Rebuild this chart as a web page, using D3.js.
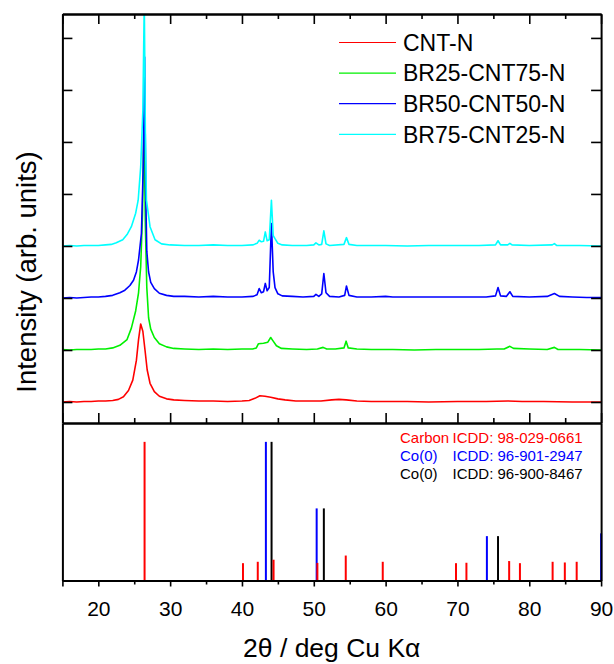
<!DOCTYPE html>
<meta charset="utf-8">
<title>XRD patterns of CNT-N and BR-CNT-N samples</title>
<style>
  body { margin: 0; background: #fff; }
  text { font-family: "Liberation Sans", Arial, sans-serif; }
</style>
<body>
<div id="my_dataviz"></div>
<script src="https://d3js.org/d3.v7.min.js"></script>
<script>

// ---- data: [2theta (deg), intensity (arb.)] ----
var cntN = [[15,0.00],[16,0.01],[17,0.00],[18,0.01],[19,0.01],[20,0.02],[21,0.02],[22,0.03],[22.8,0.05],[23.5,0.10],[24.2,0.22],[24.8,0.42],[25.3,0.80],[25.6,1.20],[25.9,1.50],[26.2,1.36],[26.5,1.00],[26.8,0.62],[27.2,0.36],[27.8,0.20],[28.5,0.11],[29.5,0.06],[30.5,0.04],[32,0.03],[34,0.02],[36,0.02],[38,0.01],[40,0.02],[41,0.03],[41.8,0.07],[42.5,0.12],[43.2,0.11],[44,0.09],[45,0.06],[46,0.04],[47.5,0.02],[49,0.02],[51,0.02],[52.5,0.04],[53.5,0.05],[54.5,0.04],[56,0.02],[58,0.01],[60,0.01],[63,0.01],[66,0.00],[70,0.01],[74,0.01],[77,0.02],[79,0.01],[82,0.01],[86,0.00],[90,0.00]];

var br25cnt75 = [[15,0.01],[16,0.00],[17,0.01],[18,0.01],[19,0.01],[20,0.02],[21,0.02],[22,0.04],[23,0.09],[24,0.20],[24.6,0.42],[25.2,0.75],[25.6,1.10],[25.9,1.60],[26.15,2.60],[26.35,4.38],[26.55,2.40],[26.75,1.20],[27.0,0.62],[27.3,0.40],[27.8,0.24],[28.5,0.12],[29.5,0.06],[30.5,0.03],[32,0.02],[34,0.01],[36,0.02],[38,0.01],[40,0.02],[41.5,0.02],[42.0,0.04],[42.3,0.12],[43.0,0.13],[43.6,0.15],[44.0,0.24],[44.3,0.18],[44.8,0.08],[45.5,0.03],[47,0.02],[49,0.01],[50.5,0.02],[51.3,0.05],[51.8,0.02],[53,0.02],[54.2,0.04],[54.5,0.17],[54.8,0.04],[56,0.02],[58,0.01],[61,0.01],[64,0.00],[67,0.01],[70,0.01],[73,0.01],[75.5,0.02],[76.5,0.02],[77.3,0.07],[77.8,0.03],[80,0.02],[82.5,0.01],[83.5,0.05],[84,0.01],[87,0.01],[90,0.00]];

var br50cnt50 = [[15,0.00],[16,0.01],[17,0.00],[18,0.01],[19,0.02],[20,0.02],[21,0.03],[22,0.05],[23,0.10],[23.7,0.15],[24.4,0.24],[24.9,0.34],[25.3,0.50],[25.6,0.73],[26.0,1.24],[26.25,2.50],[26.45,4.63],[26.6,2.00],[26.75,0.90],[27.0,0.50],[27.3,0.30],[27.8,0.18],[28.5,0.09],[29.5,0.05],[30.5,0.03],[32,0.03],[34,0.02],[36,0.03],[38,0.02],[40,0.02],[41.5,0.03],[42.1,0.06],[42.4,0.18],[42.7,0.10],[43.0,0.12],[43.25,0.28],[43.5,0.14],[43.8,0.20],[44.1,1.43],[44.35,0.50],[44.6,0.20],[45.0,0.08],[45.6,0.04],[47,0.03],[48.5,0.02],[50.0,0.03],[50.3,0.07],[50.7,0.03],[51.1,0.08],[51.4,0.47],[51.7,0.10],[52.2,0.03],[53.5,0.02],[54.3,0.05],[54.55,0.23],[54.9,0.05],[56,0.02],[58,0.02],[60,0.03],[61,0.02],[63,0.02],[66,0.02],[68,0.02],[70,0.02],[72,0.02],[74,0.02],[75.3,0.04],[75.65,0.20],[76.0,0.04],[76.8,0.03],[77.3,0.12],[77.7,0.03],[80,0.02],[82.5,0.03],[83.5,0.085],[84.2,0.03],[86,0.02],[88,0.01],[90,0.01]];

var br75cnt25 = [[15,0.00],[16,0.01],[17,0.00],[18,0.01],[19,0.01],[20,0.01],[21,0.02],[21.8,0.03],[22.5,0.06],[23.4,0.12],[24.0,0.22],[24.6,0.37],[25.2,0.63],[25.55,0.88],[25.9,1.52],[26.2,2.60],[26.4,4.70],[26.55,2.20],[26.7,0.88],[27.2,0.37],[27.9,0.12],[28.8,0.04],[30,0.02],[32,0.01],[34,0.01],[36,0.02],[38,0.01],[40,0.01],[41.5,0.02],[42.1,0.05],[42.4,0.11],[42.7,0.08],[43.0,0.09],[43.25,0.27],[43.5,0.10],[43.8,0.12],[44.1,0.88],[44.35,0.20],[44.6,0.14],[45.0,0.05],[45.6,0.02],[47,0.01],[49,0.01],[50.0,0.02],[50.3,0.06],[50.7,0.02],[51.1,0.03],[51.4,0.29],[51.7,0.04],[52.2,0.01],[54.2,0.03],[54.55,0.16],[54.9,0.03],[56,0.01],[60,0.01],[63,0.00],[66,0.01],[70,0.01],[73,0.01],[75.3,0.02],[75.65,0.10],[76.0,0.02],[77.0,0.02],[77.3,0.05],[77.6,0.02],[80,0.01],[83.2,0.02],[83.5,0.045],[83.8,0.01],[87,0.01],[90,0.00]];

var seriesNames = ["CNT-N", "BR25-CNT75-N", "BR50-CNT50-N", "BR75-CNT25-N"];
var seriesData = [cntN, br25cnt75, br50cnt50, br75cnt25];
var seriesOffsets = [0, 1, 2, 3];   // vertical stacking of the patterns

// reference patterns: [2theta, relative intensity]
var carbonRef = [[26.44,100],[40.14,12.5],[42.2,13.5],[44.4,15],[50.5,12.7],[54.45,18],[59.6,13.5],[69.8,12.5],[71.25,12.8],[77.2,14],[78.7,12.5],[83.25,13.5],[84.95,13],[86.6,13.5]];
var co2947Ref = [[43.33,100],[50.4,52],[74.1,32],[90,34]];
var co8467Ref = [[44.12,100],[51.4,52],[75.65,32]];
var refLabels = [["Carbon", "ICDD: 98-029-0661"], ["Co(0)", "ICDD: 96-901-2947"], ["Co(0)", "ICDD: 96-900-8467"]];

var xMajor = [15, 20, 30, 40, 50, 60, 70, 80, 90];
var xMinor = [25, 35, 45, 55, 65, 75, 85];
var yTicks = [0, 1, 2, 3, 4, 5, 6, 7];

// colours
var seriesColors = ["#ff0000", "#00f000", "#0000ff", "#00ffff"];
var refColors = ["#ff0000", "#0000ff", "#000000"];

// ---- layout ----
var W = 614, H = 664;
var plotLeft = 62.4, plotRight = 601.1, plotTop = 14, plotMid = 423, plotBottom = 580.5;

var svg = d3.select("#my_dataviz")
  .append("svg")
    .attr("width", W)
    .attr("height", H);

var x = d3.scaleLinear().domain([15, 90]).range([plotLeft, plotRight]);
var yTop = d3.scaleLinear().domain([-0.404, 7.46]).range([plotMid, plotTop]);
var yBot = d3.scaleLinear().domain([0, 113.6]).range([plotBottom, plotMid]);

svg.append("clipPath").attr("id", "clipTop")
  .append("rect")
    .attr("x", plotLeft).attr("y", plotTop)
    .attr("width", plotRight - plotLeft).attr("height", plotMid - plotTop);

// ---- top panel: stacked XRD patterns ----
var line = d3.line()
  .x(function(d) { return x(d[0]); })
  .y(function(d) { return yTop(d[1]); });

svg.append("g")
    .attr("clip-path", "url(#clipTop)")
  .selectAll("path")
  .data(seriesData)
  .enter()
  .append("path")
    .attr("d", function(d, i) {
      return line(d.map(function(p) { return [p[0], p[1] + seriesOffsets[i]]; }));
    })
    .attr("fill", "none")
    .attr("stroke", function(d, i) { return seriesColors[i]; })
    .attr("stroke-width", 1.6)
    .attr("stroke-linejoin", "round");

// ---- bottom panel: reference sticks ----
var refSets = [co2947Ref, co8467Ref, carbonRef];
var refSetColors = [refColors[1], refColors[2], refColors[0]];
refSets.forEach(function(set, k) {
  svg.append("g")
    .selectAll("line")
    .data(set)
    .enter()
    .append("line")
      .attr("x1", function(d) { return x(d[0]); })
      .attr("x2", function(d) { return x(d[0]); })
      .attr("y1", yBot(0))
      .attr("y2", function(d) { return yBot(d[1]); })
      .attr("stroke", refSetColors[k])
      .attr("stroke-width", 2);
});

// ---- axes ----
function styleAxis(g) {
  g.selectAll(".domain").attr("stroke", "#000").attr("stroke-width", 2);
  g.selectAll(".tick line").attr("stroke", "#000").attr("stroke-width", 1.6);
}

// top panel frame
svg.append("g").attr("transform", "translate(0," + plotTop + ")")
  .call(d3.axisTop(x).tickValues(xMajor).tickSize(-10).tickSizeOuter(0).tickFormat(""))
  .call(styleAxis);
svg.append("g").attr("transform", "translate(0," + plotTop + ")")
  .call(d3.axisTop(x).tickValues(xMinor).tickSize(-5).tickSizeOuter(0).tickFormat(""))
  .call(styleAxis);
svg.append("g").attr("transform", "translate(0," + plotMid + ")")
  .call(d3.axisBottom(x).tickValues(xMajor).tickSize(-10).tickSizeOuter(0).tickFormat(""))
  .call(styleAxis);
svg.append("g").attr("transform", "translate(0," + plotMid + ")")
  .call(d3.axisBottom(x).tickValues(xMinor).tickSize(-5).tickSizeOuter(0).tickFormat(""))
  .call(styleAxis);
svg.append("g").attr("transform", "translate(" + plotLeft + ",0)")
  .call(d3.axisLeft(yTop).tickValues(yTicks).tickSize(-10).tickSizeOuter(0).tickFormat(""))
  .call(styleAxis);
svg.append("g").attr("transform", "translate(" + plotRight + ",0)")
  .call(d3.axisRight(yTop).tickValues(yTicks).tickSize(-10).tickSizeOuter(0).tickFormat(""))
  .call(styleAxis);

// bottom panel frame
var xAxisBot = svg.append("g").attr("transform", "translate(0," + plotBottom + ")")
  .call(d3.axisBottom(x).tickValues(xMajor).tickSize(6).tickSizeOuter(0).tickPadding(15)
    .tickFormat(function(d) { return d === 15 ? "" : d; }))
  .call(styleAxis);
xAxisBot.selectAll("text")
  .attr("fill", "#000")
  .style("font-size", "21px")
  .style("font-family", "'Liberation Sans', Arial, sans-serif");
svg.append("g").attr("transform", "translate(0," + plotBottom + ")")
  .call(d3.axisBottom(x).tickValues(xMinor).tickSize(4).tickSizeOuter(0).tickFormat(""))
  .call(styleAxis);
svg.append("g").attr("transform", "translate(" + plotLeft + ",0)")
  .call(d3.axisLeft(yBot).tickValues([]).tickSizeOuter(0))
  .call(styleAxis);
svg.append("g").attr("transform", "translate(" + plotRight + ",0)")
  .call(d3.axisRight(yBot).tickValues([]).tickSizeOuter(0))
  .call(styleAxis);

// ---- axis titles ----
svg.append("text")
  .attr("x", (plotLeft + plotRight) / 2)
  .attr("y", 657)
  .attr("text-anchor", "middle")
  .style("font-size", "26.5px")
  .text("2\u03b8 / deg Cu K\u03b1");

svg.append("text")
  .attr("transform", "translate(36,272) rotate(-90)")
  .attr("text-anchor", "middle")
  .style("font-size", "27.5px")
  .text("Intensity (arb. units)");

// ---- legend (top panel) ----
var legend = svg.selectAll("myLegend")
  .data(seriesNames)
  .enter()
  .append("g")
    .attr("transform", function(d, i) { return "translate(339," + (42.5 + i * 30.6) + ")"; });
legend.append("line")
  .attr("x1", 0).attr("x2", 57)
  .attr("stroke", function(d, i) { return seriesColors[i]; })
  .attr("stroke-width", 1.2);
legend.append("text")
  .attr("x", 64)
  .attr("y", 8.2)
  .style("font-size", "23px")
  .text(function(d) { return d; });

// ---- reference legend (bottom panel) ----
var refLegend = svg.selectAll("refLegend")
  .data(refLabels)
  .enter()
  .append("g")
    .attr("transform", function(d, i) { return "translate(400," + (443 + i * 18) + ")"; })
    .attr("fill", function(d, i) { return refColors[i]; });
refLegend.append("text")
  .style("font-size", "15px")
  .text(function(d) { return d[0]; });
refLegend.append("text")
  .attr("x", 52.5)
  .style("font-size", "15px")
  .text(function(d) { return d[1]; });

</script>
</body>
